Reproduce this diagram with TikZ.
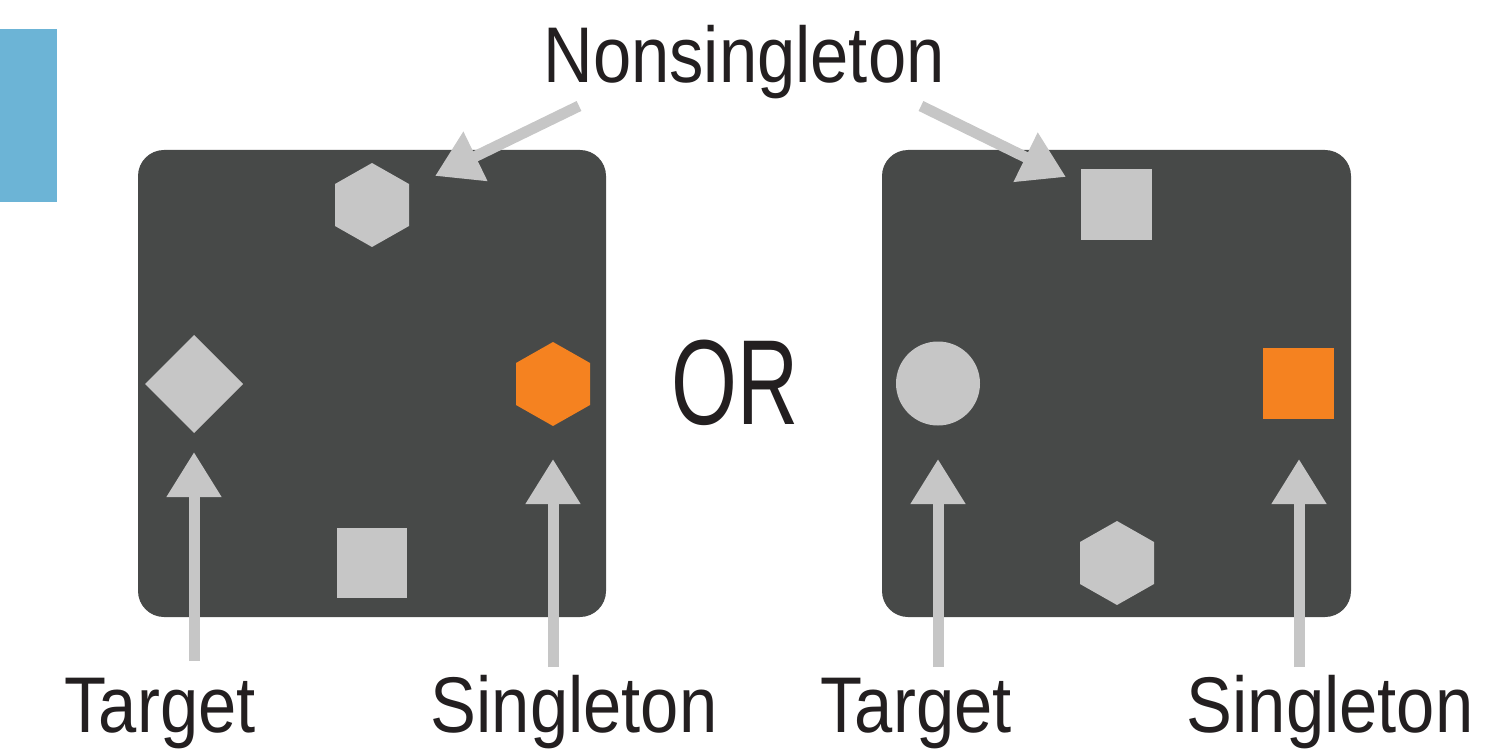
\documentclass[tikz,border=0pt]{standalone}
\usepackage{fontspec}
\setmainfont{Liberation Sans}
\newfontfamily\labfont[FakeStretch=0.87]{Liberation Sans}
\newfontfamily\orfont[FakeStretch=0.70]{Liberation Sans}
\usetikzlibrary{arrows.meta}
\definecolor{panelgray}{HTML}{474948}
\definecolor{shapegray}{HTML}{C6C6C6}
\definecolor{orng}{HTML}{F58220}
\definecolor{blueish}{HTML}{6CB4D6}
\definecolor{txt}{HTML}{231F20}
\tikzset{
  panel/.style={fill=panelgray, rounded corners=26pt},
  lab/.style={anchor=base, inner sep=0pt, text=txt, font=\labfont\fontsize{79}{79}\selectfont},
  orlab/.style={anchor=base, inner sep=0pt, text=txt, font=\orfont\fontsize{121}{121}\selectfont},
  pointer/.style={draw=shapegray, line width=11pt, -{Triangle[length=45pt 0 0, width=52pt 0 0]}},
}
\begin{document}
\begin{tikzpicture}[x=1pt, y=-1pt]
\useasboundingbox (0,0) rectangle (1502,751);
% blue tab
\fill[blueish] (0,29) rectangle (57,202);
% panels
\fill[panel] (138,150) rectangle (606,617);
\fill[panel] (882,150) rectangle (1351,617);
% left panel shapes
\fill[shapegray] (372,205) +(0,-42) -- +(37,-21) -- +(37,21) -- +(0,42) -- +(-37,21) -- +(-37,-21) -- cycle;
\fill[shapegray] (194,384) +(0,-49) -- +(49,0) -- +(0,49) -- +(-49,0) -- cycle;
\fill[orng] (553,384) +(0,-42) -- +(37,-21) -- +(37,21) -- +(0,42) -- +(-37,21) -- +(-37,-21) -- cycle;
\fill[shapegray] (337,528) rectangle (407,598);
% right panel shapes
\fill[shapegray] (1081,169) rectangle (1152,240);
\fill[shapegray] (938,383.5) circle (42);
\fill[orng] (1263,348) rectangle (1334,419);
\fill[shapegray] (1117,563) +(0,-42) -- +(37,-21) -- +(37,21) -- +(0,42) -- +(-37,21) -- +(-37,-21) -- cycle;
% labels
\node[lab] (nons) at (744,83) {Nonsingleton};
\node[orlab] (or) at (735,424) {OR};
\node[lab] (t1) at (160,732) {Target};
\node[lab] (s1) at (574,732) {Singleton};
\node[lab] (t2) at (916,732) {Target};
\node[lab] (s2) at (1330,732) {Singleton};
% arrow end points
\coordinate (n1a) at (579,106);
\coordinate (n1b) at (435,176);
\coordinate (n2a) at (921,106);
\coordinate (n2b) at (1066,177);
\coordinate (t1a) at (194,661);
\coordinate (t1b) at (194,452);
\coordinate (s1a) at (553,667);
\coordinate (s1b) at (553,459);
\coordinate (t2a) at (938,667);
\coordinate (t2b) at (938,459);
\coordinate (s2a) at (1299,667);
\coordinate (s2b) at (1299,459);
\draw[pointer] (n1a) -- (n1b);
\draw[pointer] (n2a) -- (n2b);
\draw[pointer] (t1a) -- (t1b);
\draw[pointer] (s1a) -- (s1b);
\draw[pointer] (t2a) -- (t2b);
\draw[pointer] (s2a) -- (s2b);
\end{tikzpicture}
\end{document}
